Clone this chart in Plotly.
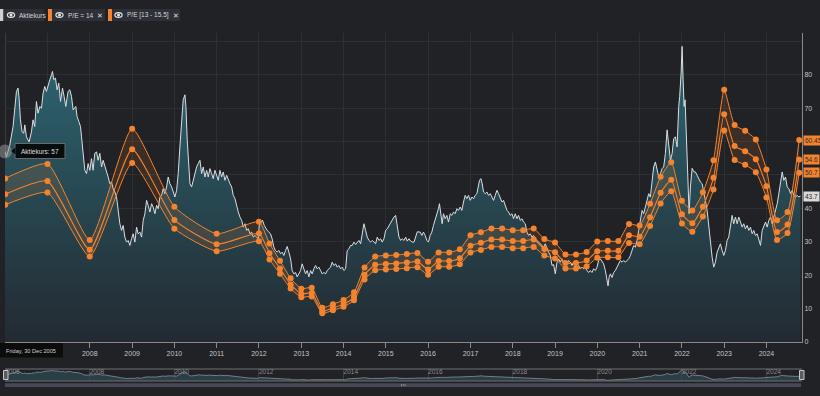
import plotly.graph_objects as go
import pandas as pd

# ---------------- data ----------------
# share price: decimal-year dates and closing values
price_t = [
    2005.995, 2006.028, 2006.107, 2006.185, 2006.265, 2006.303, 2006.327, 2006.360, 2006.398, 2006.438,
    2006.462, 2006.502, 2006.563, 2006.620, 2006.658, 2006.698, 2006.738, 2006.776, 2006.817, 2006.857,
    2006.895, 2006.935, 2006.975, 2007.013, 2007.053, 2007.094, 2007.117, 2007.148, 2007.188, 2007.226,
    2007.266, 2007.307, 2007.354, 2007.392, 2007.432, 2007.486, 2007.527, 2007.567, 2007.605, 2007.669,
    2007.699, 2007.740, 2007.780, 2007.804, 2007.841, 2007.882, 2007.922, 2007.960, 2008.000, 2008.040,
    2008.078, 2008.118, 2008.159, 2008.196, 2008.237, 2008.277, 2008.315, 2008.355, 2008.395, 2008.433,
    2008.473, 2008.514, 2008.551, 2008.592, 2008.632, 2008.670, 2008.710, 2008.750, 2008.788, 2008.828,
    2008.869, 2008.906, 2008.947, 2008.987, 2009.025, 2009.065, 2009.105, 2009.143, 2009.183, 2009.224,
    2009.262, 2009.302, 2009.342, 2009.380, 2009.420, 2009.460, 2009.498, 2009.539, 2009.579, 2009.617,
    2009.657, 2009.697, 2009.735, 2009.775, 2009.815, 2009.853, 2009.893, 2009.934, 2009.972, 2010.012,
    2010.052, 2010.090, 2010.130, 2010.170, 2010.208, 2010.249, 2010.272, 2010.303, 2010.336, 2010.367,
    2010.407, 2010.445, 2010.485, 2010.525, 2010.563, 2010.604, 2010.644, 2010.682, 2010.722, 2010.762,
    2010.800, 2010.840, 2010.880, 2010.918, 2010.959, 2010.999, 2011.037, 2011.077, 2011.117, 2011.155,
    2011.195, 2011.236, 2011.273, 2011.314, 2011.354, 2011.392, 2011.432, 2011.472, 2011.510, 2011.550,
    2011.591, 2011.629, 2011.669, 2011.709, 2011.747, 2011.787, 2011.827, 2011.865, 2011.905, 2011.946,
    2011.983, 2012.007, 2012.047, 2012.085, 2012.125, 2012.166, 2012.192, 2012.233, 2012.273, 2012.311,
    2012.351, 2012.391, 2012.429, 2012.470, 2012.510, 2012.548, 2012.588, 2012.628, 2012.666, 2012.706,
    2012.747, 2012.784, 2012.825, 2012.865, 2012.903, 2012.943, 2012.983, 2013.021, 2013.061, 2013.101,
    2013.139, 2013.180, 2013.220, 2013.258, 2013.298, 2013.338, 2013.376, 2013.416, 2013.456, 2013.494,
    2013.535, 2013.575, 2013.613, 2013.653, 2013.693, 2013.731, 2013.771, 2013.811, 2013.849, 2013.890,
    2013.930, 2013.968, 2014.008, 2014.048, 2014.086, 2014.126, 2014.167, 2014.204, 2014.245, 2014.285,
    2014.323, 2014.363, 2014.403, 2014.441, 2014.481, 2014.521, 2014.559, 2014.600, 2014.640, 2014.678,
    2014.718, 2014.758, 2014.796, 2014.836, 2014.876, 2014.914, 2014.955, 2014.995, 2015.033, 2015.073,
    2015.113, 2015.151, 2015.191, 2015.231, 2015.269, 2015.310, 2015.350, 2015.388, 2015.428, 2015.468,
    2015.506, 2015.546, 2015.586, 2015.624, 2015.665, 2015.705, 2015.743, 2015.811, 2015.851, 2015.889,
    2015.929, 2015.969, 2016.007, 2016.047, 2016.087, 2016.125, 2016.166, 2016.206, 2016.243, 2016.267,
    2016.300, 2016.331, 2016.362, 2016.402, 2016.442, 2016.481, 2016.521, 2016.561, 2016.599, 2016.639,
    2016.679, 2016.717, 2016.757, 2016.797, 2016.836, 2016.876, 2016.916, 2016.954, 2016.994, 2017.034,
    2017.072, 2017.112, 2017.152, 2017.190, 2017.214, 2017.247, 2017.278, 2017.309, 2017.349, 2017.389,
    2017.427, 2017.468, 2017.508, 2017.546, 2017.586, 2017.626, 2017.664, 2017.704, 2017.745, 2017.782,
    2017.823, 2017.863, 2017.901, 2017.941, 2017.981, 2018.019, 2018.059, 2018.099, 2018.137, 2018.178,
    2018.218, 2018.256, 2018.296, 2018.336, 2018.374, 2018.414, 2018.454, 2018.492, 2018.533, 2018.573,
    2018.611, 2018.651, 2018.691, 2018.729, 2018.769, 2018.809, 2018.847, 2018.888, 2018.928, 2018.966,
    2019.006, 2019.046, 2019.084, 2019.124, 2019.164, 2019.202, 2019.243, 2019.283, 2019.321, 2019.361,
    2019.401, 2019.439, 2019.479, 2019.519, 2019.557, 2019.598, 2019.638, 2019.676, 2019.716, 2019.756,
    2019.794, 2019.834, 2019.874, 2019.912, 2019.953, 2019.993, 2020.031, 2020.071, 2020.111, 2020.149,
    2020.189, 2020.229, 2020.253, 2020.277, 2020.308, 2020.348, 2020.386, 2020.426, 2020.466, 2020.504,
    2020.544, 2020.584, 2020.622, 2020.663, 2020.703, 2020.741, 2020.781, 2020.821, 2020.859, 2020.899,
    2020.939, 2020.977, 2021.018, 2021.058, 2021.096, 2021.136, 2021.176, 2021.214, 2021.254, 2021.294,
    2021.332, 2021.373, 2021.413, 2021.451, 2021.491, 2021.531, 2021.569, 2021.609, 2021.649, 2021.687,
    2021.728, 2021.768, 2021.806, 2021.846, 2021.886, 2021.924, 2021.947, 2021.981, 2022.004, 2022.028,
    2022.052, 2022.075, 2022.099, 2022.123, 2022.146, 2022.170, 2022.201, 2022.241, 2022.279, 2022.319,
    2022.360, 2022.397, 2022.437, 2022.477, 2022.515, 2022.555, 2022.596, 2022.633, 2022.674, 2022.714,
    2022.752, 2022.792, 2022.832, 2022.870, 2022.910, 2022.951, 2022.989, 2023.029, 2023.069, 2023.107,
    2023.147, 2023.188, 2023.225, 2023.266, 2023.306, 2023.344, 2023.384, 2023.424, 2023.462, 2023.502,
    2023.543, 2023.581, 2023.621, 2023.661, 2023.699, 2023.739, 2023.779, 2023.817, 2023.858, 2023.898,
    2023.936, 2023.976, 2024.016, 2024.054, 2024.094, 2024.134, 2024.172, 2024.213, 2024.253, 2024.291,
    2024.331, 2024.371, 2024.409, 2024.449, 2024.489, 2024.527, 2024.568, 2024.608, 2024.646, 2024.686,
    2024.726, 2024.764, 2024.804,
]
price_v = [
    57.0, 55.4, 58.9, 64.5, 75.0, 76.0, 73.0, 66.5, 62.9, 62.5,
    65.0, 61.4, 59.9, 62.9, 66.5, 64.5, 72.0, 68.5, 70.5, 70.0,
    74.5, 76.5, 75.0, 77.0, 78.5, 80.0, 81.0, 78.5, 79.0, 75.5,
    77.5, 72.0, 76.0, 73.5, 70.5, 75.0, 75.5, 73.5, 69.5, 70.5,
    67.5, 66.0, 64.5, 61.4, 55.4, 51.4, 50.4, 53.4, 51.4, 54.9,
    51.4, 56.5, 56.9, 54.4, 56.5, 52.4, 54.4, 52.9, 50.9, 49.4,
    47.4, 47.9, 45.9, 44.9, 43.4, 38.4, 35.4, 33.4, 34.9, 31.4,
    29.9, 30.4, 28.9, 30.9, 32.4, 29.9, 34.4, 32.4, 32.9, 31.4,
    36.4, 38.4, 42.4, 40.9, 38.9, 41.4, 40.4, 38.4, 40.9, 39.9,
    43.4, 43.9, 45.9, 44.4, 46.4, 49.4, 47.4, 46.4, 44.9, 43.4,
    45.4, 50.4, 58.4, 66.5, 72.5, 74.0, 70.5, 60.5, 54.9, 47.4,
    46.4, 48.4, 50.4, 52.4, 53.4, 54.4, 50.4, 52.4, 49.4, 51.4,
    49.4, 51.9, 50.4, 48.9, 51.4, 49.4, 48.4, 51.4, 49.4, 50.9,
    48.4, 49.9, 48.4, 47.4, 46.4, 43.9, 42.9, 40.4, 38.9, 37.4,
    36.4, 34.4, 35.4, 33.4, 33.9, 32.4, 32.9, 31.4, 31.9, 31.4,
    30.9, 35.0, 35.9, 36.4, 34.9, 33.9, 33.4, 32.9, 32.4, 30.9,
    28.4, 27.4, 26.9, 27.4, 26.4, 26.9, 25.9, 27.4, 28.6, 26.9,
    24.9, 21.4, 20.4, 20.8, 19.5, 20.4, 21.4, 23.4, 21.9, 20.4,
    21.4, 19.5, 21.4, 20.4, 21.9, 22.9, 21.9, 22.4, 21.4, 20.4,
    20.8, 20.4, 21.4, 21.9, 22.4, 23.9, 22.9, 23.4, 22.4, 22.9,
    21.9, 22.4, 21.4, 21.9, 27.4, 27.9, 28.9, 28.9, 29.9, 29.2,
    29.9, 30.4, 29.4, 32.9, 35.4, 33.4, 31.4, 30.4, 29.9, 30.4,
    29.9, 29.4, 31.4, 30.4, 30.9, 29.9, 30.9, 33.4, 33.9, 34.9,
    35.9, 36.4, 37.4, 37.9, 34.9, 31.4, 30.4, 30.9, 30.4, 31.4,
    30.2, 30.9, 30.2, 29.9, 29.9, 31.9, 33.0, 32.9, 31.9, 32.9,
    31.9, 30.4, 29.9, 31.9, 32.9, 34.9, 36.4, 38.4, 39.9, 41.4,
    37.9, 35.4, 38.4, 36.9, 37.9, 35.9, 38.4, 37.9, 38.9, 38.4,
    39.9, 39.4, 40.4, 39.4, 41.9, 43.9, 42.9, 43.9, 42.4, 43.4,
    42.9, 43.9, 44.4, 46.4, 48.4, 48.9, 47.4, 44.9, 44.4, 44.9,
    43.9, 44.4, 43.4, 42.4, 43.9, 45.4, 44.4, 43.4, 41.9, 42.4,
    40.9, 39.4, 38.9, 37.9, 38.4, 36.9, 38.4, 36.9, 37.9, 36.4,
    36.9, 35.9, 35.4, 32.9, 31.9, 32.4, 31.4, 31.9, 30.9, 30.4,
    29.9, 29.4, 28.9, 28.4, 29.4, 27.9, 26.9, 26.0, 22.9, 23.2,
    20.4, 23.9, 24.9, 23.9, 24.9, 23.4, 24.4, 23.4, 24.4, 23.9,
    22.9, 23.9, 22.9, 22.4, 22.9, 21.9, 22.4, 21.9, 22.4, 21.4,
    20.8, 21.4, 20.8, 21.9, 21.4, 22.4, 24.4, 24.9, 23.9, 23.4,
    21.4, 17.8, 16.8, 19.3, 20.4, 19.3, 20.8, 21.4, 22.4, 23.4,
    24.4, 23.9, 24.4, 23.9, 24.4, 24.9, 25.9, 27.4, 28.9, 28.4,
    30.4, 33.4, 35.9, 39.4, 38.4, 40.4, 42.4, 44.4, 43.4, 48.4,
    52.4, 53.9, 50.9, 49.4, 50.4, 51.9, 52.4, 56.4, 63.5, 58.4,
    54.4, 56.4, 60.9, 61.4, 58.4, 70.5, 73.5, 80.5, 88.5, 78.5,
    70.5, 72.5, 64.5, 52.4, 45.4, 38.4, 46.4, 52.0, 51.0, 50.9,
    49.9, 48.9, 47.9, 47.4, 45.4, 42.4, 39.4, 34.4, 29.4, 25.4,
    22.4, 23.9, 26.9, 28.4, 29.4, 27.4, 25.9, 27.4, 30.4, 31.4,
    34.4, 37.9, 35.4, 37.4, 35.4, 37.4, 35.9, 34.4, 35.4, 33.9,
    34.9, 33.4, 34.4, 32.4, 33.4, 31.9, 32.4, 30.4, 28.9, 33.4,
    34.9, 35.9, 34.4, 36.4, 37.4, 35.4, 37.4, 39.4, 41.4, 44.4,
    48.4, 50.9, 48.4, 49.4, 46.4, 45.9, 44.4, 45.4, 43.9, 43.4,
    43.9, 43.4, 43.7,
]

# earnings per share used for the P/E lines
eps_dates = [
    "2006-01-01", "2007-01-01", "2008-01-01", "2009-01-01", "2010-01-01", "2011-01-01",
    "2012-01-01", "2012-04-01", "2012-07-01", "2012-10-01",
    "2013-01-01", "2013-04-01", "2013-07-01", "2013-10-01",
    "2014-01-01", "2014-04-01", "2014-07-01", "2014-10-01",
    "2015-01-01", "2015-04-01", "2015-07-01", "2015-10-01",
    "2016-01-01", "2016-04-01", "2016-07-01", "2016-10-01",
    "2017-01-01", "2017-04-01", "2017-07-01", "2017-10-01",
    "2018-01-01", "2018-04-01", "2018-07-01", "2018-10-01",
    "2019-01-01", "2019-04-01", "2019-07-01", "2019-10-01",
    "2020-01-01", "2020-04-01", "2020-07-01", "2020-10-01",
    "2021-01-01", "2021-04-01", "2021-07-01", "2021-10-01",
    "2022-01-01", "2022-04-01", "2022-07-01", "2022-10-01",
    "2023-01-01", "2023-04-01", "2023-07-01", "2023-10-01",
    "2024-01-01", "2024-04-01", "2024-07-01", "2024-10-10",
]
eps = [
    3.16, 3.44, 1.97, 4.12, 2.61, 2.09,
    2.32, 1.90, 1.57, 1.23,
    1.03, 1.05, 0.66, 0.73,
    0.81, 0.96, 1.44, 1.65,
    1.67, 1.68, 1.70, 1.72,
    1.55, 1.73, 1.73, 1.79,
    2.06, 2.12, 2.19, 2.19,
    2.16, 2.16, 2.19, 1.99,
    1.92, 1.69, 1.69, 1.74,
    1.94, 1.95, 1.95, 2.28,
    2.25, 2.67, 3.19, 3.47,
    2.73, 2.54, 2.89, 3.51,
    4.87, 4.19, 4.08, 3.91,
    3.33, 2.35, 2.51, 3.90,
]
PE_MID, PE_LOW, PE_HIGH = 14, 13, 15.5

series_names = ["Aktiekurs", "P/E = 14", "P/E [13 - 15.5]"]
tooltip_date = "Friday, 30 Dec 2005"
x_start, x_end = "2005-12-30", "2024-11-03"
year_ticks = list(range(2006, 2025))
hidden_year_labels = (2006, 2007)      # covered by the date label in the picture
value_ticks = list(range(0, 100, 10))
hidden_value_labels = (50, 60, 90)     # covered by the last-value labels / above the top

# ---------------- derived ----------------
def dec2dt(t):
    return pd.Timestamp("2006-01-01") + pd.Timedelta(days=(t - 2006) * 365.25)

price_x = [dec2dt(t) for t in price_t]
eps_x = pd.to_datetime(eps_dates)
pe_mid = [e * PE_MID for e in eps]
pe_low = [e * PE_LOW for e in eps]
pe_high = [e * PE_HIGH for e in eps]

ORANGE = "#f5832e"
BG = "#202226"
GRID = "#2c2f34"
FONT = "Liberation Sans, Arial, sans-serif"

# page-pixel -> paper helpers (plot area: x 5..802, y 33..381)
def PX(x):
    return (x - 5) / 797.0

def PY(y):
    return (381 - y) / 348.0

fig = go.Figure()

fig.add_trace(go.Scatter(
    x=price_x, y=price_v, mode="lines", name=series_names[0],
    line=dict(color="#dadee2", width=1),
    fill="tozeroy",
    fillgradient=dict(type="vertical", start=0, stop=85,
                      colorscale=[[0, "#232a31"], [1, "#2c6470"]]),
    hoverinfo="skip"))

fig.add_trace(go.Scatter(
    x=[price_x[0]], y=[price_v[0]], mode="markers",
    marker=dict(size=14, color="rgba(150,150,150,0.55)"),
    cliponaxis=False, hoverinfo="skip"))

spl = dict(shape="spline", smoothing=0.5)
fig.add_trace(go.Scatter(
    x=eps_x, y=pe_low, mode="lines+markers", name="P/E 13",
    line=dict(color=ORANGE, width=1, **spl),
    marker=dict(size=6, color=ORANGE), hoverinfo="skip"))
fig.add_trace(go.Scatter(
    x=eps_x, y=pe_high, mode="lines+markers", name="P/E 15.5",
    line=dict(color=ORANGE, width=1, **spl),
    marker=dict(size=6, color=ORANGE),
    fill="tonexty", fillcolor="rgba(245,131,46,0.13)", hoverinfo="skip"))
fig.add_trace(go.Scatter(
    x=eps_x, y=pe_mid, mode="lines+markers", name=series_names[1],
    line=dict(color=ORANGE, width=1.1, **spl),
    marker=dict(size=6, color=ORANGE), hoverinfo="skip"))

# navigator
fig.add_trace(go.Scatter(
    x=price_x, y=price_v, mode="lines", xaxis="x2", yaxis="y2",
    line=dict(color="#8a9095", width=0.8),
    fill="tozeroy", fillcolor="rgba(50,85,95,0.55)", hoverinfo="skip"))

shapes = []
annos = []

def rect(x0, y0, x1, y1, fill, line=None, lw=0):
    shapes.append(dict(type="rect", xref="paper", yref="paper",
                       x0=PX(x0), x1=PX(x1), y0=PY(y1), y1=PY(y0),
                       fillcolor=fill, line=dict(width=lw, color=line or fill),
                       layer="above"))

def hline(x0, x1, y, color, w=1):
    shapes.append(dict(type="line", xref="paper", yref="paper",
                       x0=PX(x0), x1=PX(x1), y0=PY(y), y1=PY(y),
                       line=dict(color=color, width=w), layer="above"))

def vline(x, y0, y1, color, w=1):
    shapes.append(dict(type="line", xref="paper", yref="paper",
                       x0=PX(x), x1=PX(x), y0=PY(y0), y1=PY(y1),
                       line=dict(color=color, width=w), layer="above"))

def text(x, y, s, size=7, color="#d0d0d0", xanchor="center"):
    annos.append(dict(xref="paper", yref="paper", x=PX(x), y=PY(y), text=s,
                      showarrow=False, xanchor=xanchor, yanchor="middle",
                      font=dict(size=size, color=color, family=FONT)))

def eye(cx, cy):
    shapes.append(dict(type="circle", xref="paper", yref="paper",
                       x0=PX(cx - 3.6), x1=PX(cx + 3.6), y0=PY(cy + 2.4), y1=PY(cy - 2.4),
                       fillcolor="rgba(0,0,0,0)", line=dict(color="#e6e6e6", width=1.2),
                       layer="above"))
    shapes.append(dict(type="circle", xref="paper", yref="paper",
                       x0=PX(cx - 1.5), x1=PX(cx + 1.5), y0=PY(cy + 1.5), y1=PY(cy - 1.5),
                       fillcolor="#e6e6e6", line=dict(width=0), layer="above"))

# crosshair at hovered date
shapes.append(dict(type="line", xref="x", yref="paper", x0=price_x[0], x1=price_x[0],
                   y0=PY(342), y1=1, line=dict(color="#4c4f55", width=1), layer="below"))

# legend buttons
BOX = "#2d3036"
rect(0, 9, 3.5, 21, "#d0d0d0")
rect(3.5, 9, 44, 21, BOX)
eye(11, 15)
text(17, 15, series_names[0], 6.5, "#d6d6d6", "left")
rect(48, 9, 52, 21, ORANGE)
rect(52, 9, 105, 21, BOX)
eye(59.5, 15)
text(66, 15, series_names[1], 6.5, "#d6d6d6", "left")
text(100, 15, "✕", 7, "#e0e0e0")
rect(108, 9, 112, 21, ORANGE)
rect(112, 9, 180, 21, BOX)
eye(118.5, 15)
text(125, 15, series_names[2], 6.5, "#d6d6d6", "left")
text(176, 15, "✕", 7, "#e0e0e0")

# tooltip
rect(15, 143.5, 65, 158.5, "rgba(8,8,8,0.92)", "#6a6a6a", 1)
shapes.append(dict(type="path", xref="paper", yref="paper",
                   path="M %f %f L %f %f L %f %f Z" % (PX(15.5), PY(147.5), PX(11), PY(151), PX(15.5), PY(154.5)),
                   fillcolor="rgba(8,8,8,0.92)", line=dict(width=0), layer="above"))
text(19, 151, "%s: %g" % (series_names[0], price_v[0]), 6.5, "#dddddd", "left")

# date label on x axis
rect(0, 343, 63, 357.5, "#0c0c0c")
text(4, 350.5, tooltip_date, 5.6, "#cfcfcf", "left")

# navigator decorations
hline(5, 802, 369, "#6e7074", 1)
hline(5, 802, 381, "#6e7074", 1)
rect(3.5, 370.5, 8, 379.5, "#5a5c60", "#c8c8c8", 1)
rect(799.5, 370.5, 804, 379.5, "#5a5c60", "#c8c8c8", 1)
rect(5, 383.3, 801, 386.9, "#474a54")
for gx in (401.5, 403.3, 405.1):
    vline(gx, 384, 386.2, "#9a9ca2", 0.7)

# last-value labels on the right axis
def fmt(v):
    return ("%.2f" % v).rstrip("0").rstrip(".")

for val, bg in ((pe_high[-1], ORANGE), (pe_mid[-1], ORANGE), (pe_low[-1], ORANGE), (price_v[-1], "#d9d9d9")):
    annos.append(dict(xref="paper", yref="y", x=1, y=val, text=fmt(val),
                      showarrow=False, xanchor="left", yanchor="middle", xshift=1,
                      bgcolor=bg, borderpad=1,
                      font=dict(size=6.5, color="#2a2a2a", family=FONT)))

fig.update_layout(
    width=820, height=396,
    margin=dict(l=5, r=18, t=33, b=15, autoexpand=False),
    paper_bgcolor=BG, plot_bgcolor=BG,
    showlegend=False,
    font=dict(family=FONT, size=7, color="#bdbdbd"),
    xaxis=dict(type="date", range=[x_start, x_end], anchor="y",
               tickvals=["%d-01-01" % y for y in year_ticks],
               ticktext=["" if y in hidden_year_labels else str(y) for y in year_ticks],
               showgrid=True, gridcolor=GRID, gridwidth=1,
               ticks="outside", ticklen=5, tickcolor="#8a8a8a",
               showline=True, linecolor="#8a8a8a", linewidth=1,
               tickfont=dict(size=7, color="#c4c4c4"), zeroline=False),
    yaxis=dict(domain=[PY(342), 1], range=[0, 92.5], side="right", anchor="x",
               tickvals=value_ticks,
               ticktext=["" if v in hidden_value_labels else str(v) for v in value_ticks],
               showgrid=True, gridcolor=GRID, gridwidth=1,
               showline=True, linecolor="#8a8a8a", linewidth=1,
               ticks="", tickfont=dict(size=7, color="#c4c4c4"), zeroline=False),
    xaxis2=dict(type="date", range=[x_start, x_end], anchor="y2",
                tick0="2006-01-01", dtick="M24", tickformat="%Y",
                ticklabelposition="inside right",
                showgrid=True, gridcolor="#3a3d43", ticks="",
                showline=False, tickfont=dict(size=6.5, color="#8c8c8c"), zeroline=False),
    yaxis2=dict(domain=[0, PY(369)], range=[14, 91], anchor="x2",
                showgrid=False, showticklabels=False, zeroline=False, showline=False),
    shapes=shapes, annotations=annos,
)

fig.write_html("out.html", config={"displayModeBar": False},
               post_script="document.body.style.margin='0';document.body.style.padding='0';"
                           "document.documentElement.style.background='%s';" % BG)
